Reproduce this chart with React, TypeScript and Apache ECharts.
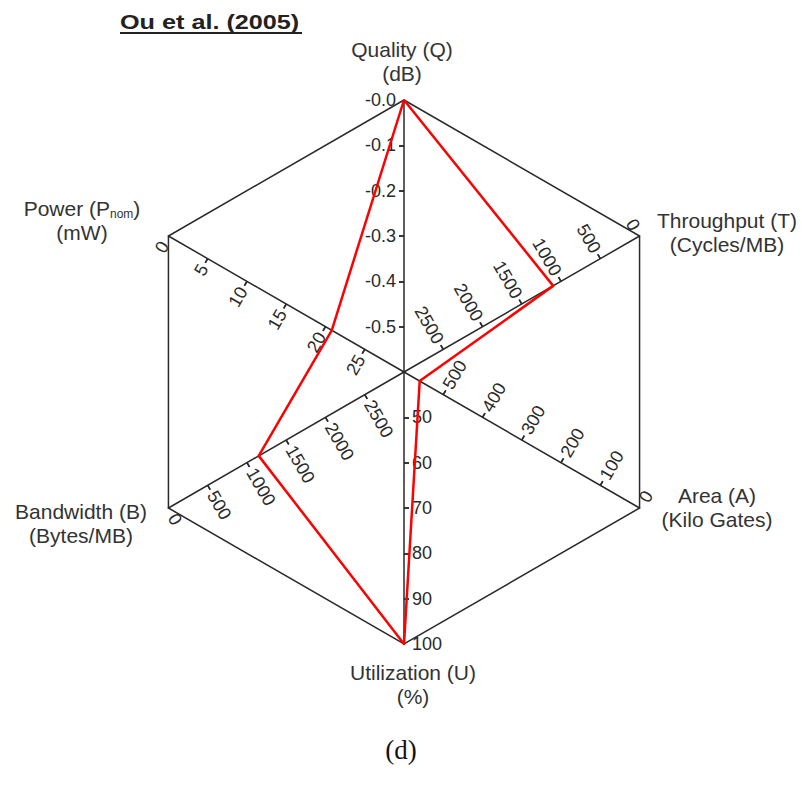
import React, { useEffect, useRef } from 'react';
import * as echarts from 'echarts';

// Axes in counter-clockwise order starting at the top
const axisTitles = ['Quality (Q)', 'Power (P', 'Bandwidth (B)', 'Utilization (U)', 'Area (A)', 'Throughput (T)'];
const axisUnits = ['(dB)', '(mW)', '(Bytes/MB)', '(%)', '(Kilo Gates)', '(Cycles/MB)'];
const hubValues = [-0.6, 30, 3000, 40, 600, 3000]; // value at the centre
const cornerValues = [0, 0, 0, 100, 0, 0]; // value at the hexagon corner
const labelPrefixes = ['-', '', '', '', '', ''];
const labelDecimals = [1, 0, 0, 0, 0, 0];
const labelRotations = [0, 60, -60, 0, 60, -60];
const ouEtAl2005 = [0, 20.8, 1150, 100, 560, 1100];
const splitCount = 6;

const FONT = 'Liberation Sans, Arial, sans-serif';
const INK = '#2a2a2a';

function buildIndicators(withLabels: boolean, withTicks: boolean) {
  return axisTitles.map((name, i) => {
    const inverted = cornerValues[i] < hubValues[i];
    const min = inverted ? -hubValues[i] : hubValues[i];
    const max = inverted ? -cornerValues[i] : cornerValues[i];
    const step = (max - min) / splitCount;
    const inner: number[] = [];
    for (let k = 1; k < splitCount; k++) inner.push(min + k * step);
    const ind: any = { name, min, max };
    if (withTicks) ind.axisTick = { customValues: inner };
    if (withLabels) {
      ind.axisLabel = {
        rotate: labelRotations[i],
        showMinLabel: false,
        showMaxLabel: true,
        formatter: (v: number) => labelPrefixes[i] + Math.abs(v).toFixed(labelDecimals[i]),
      };
    }
    return ind;
  });
}

function mappedValues(vals: number[]) {
  return vals.map((v, i) => (cornerValues[i] < hubValues[i] ? -v : v));
}

const namePlacement = [
  { x: 402, y: 37 },
  { x: 82, y: 196 },
  { x: 81, y: 499 },
  { x: 413, y: 660 },
  { x: 717, y: 483 },
  { x: 727, y: 208 },
];

export default function App() {
  const ref = useRef<HTMLDivElement>(null);
  useEffect(() => {
    if (!ref.current) return;
    const chart = echarts.init(ref.current, undefined, { renderer: 'svg' });
    const base = {
      center: [404, 372],
      radius: 272,
      startAngle: 90,
      shape: 'polygon',
      splitNumber: splitCount,
      axisName: { show: false },
      splitArea: { show: false },
      splitLine: { show: false },
    };
    const lineStyle = { color: INK, width: 1.5 };

    const nameTexts = axisTitles.map((t, i) => {
      const first = i === 1 ? '{a|' + t + '}{s|nom}{a|)}' : '{a|' + t + '}';
      return {
        type: 'text',
        x: namePlacement[i].x,
        y: namePlacement[i].y,
        silent: true,
        style: {
          text: first + '\n{a|' + axisUnits[i] + '}',
          align: 'center',
          verticalAlign: 'top',
          fill: '#333',
          font: `21px ${FONT}`,
          rich: {
            a: { fontSize: 21, fontFamily: FONT, fill: '#333', lineHeight: 24 } as any,
            s: { fontSize: 12, fontFamily: FONT, fill: '#333', lineHeight: 14, verticalAlign: 'bottom' } as any,
          },
        },
      };
    });

    chart.setOption({
      animation: false,
      radar: [
        {
          ...base,
          indicator: buildIndicators(true, true),
          axisLine: { show: true, lineStyle },
          axisTick: { show: true, length: 5, lineStyle },
          axisLabel: { show: true, margin: 8, fontSize: 18, color: '#2a2a2a', fontFamily: FONT },
        },
        {
          ...base,
          indicator: buildIndicators(false, true),
          axisLine: { show: false },
          axisTick: { show: true, inside: true, length: 5, lineStyle },
          axisLabel: { show: false },
        },
        {
          ...base,
          splitNumber: 1,
          indicator: buildIndicators(false, false),
          axisLine: { show: false },
          axisTick: { show: false },
          axisLabel: { show: false },
          splitLine: { show: true, lineStyle },
        },
      ],
      series: [
        {
          type: 'radar',
          radarIndex: 0,
          symbol: 'none',
          z: 5,
          lineStyle: { color: '#ff0000', width: 2.5 },
          data: [{ name: 'Ou et al. (2005)', value: mappedValues(ouEtAl2005) }],
        },
      ],
      graphic: [
        {
          type: 'text',
          x: 120,
          y: 22,
          scaleX: 1.2,
          silent: true,
          style: {
            text: 'Ou et al. (2005)',
            font: `bold 21px ${FONT}`,
            fill: '#222',
            align: 'left',
            verticalAlign: 'middle',
          },
        },
        {
          type: 'line',
          silent: true,
          shape: { x1: 120, y1: 33, x2: 302, y2: 33 },
          style: { stroke: '#222', lineWidth: 2 },
        },
        ...nameTexts,
        {
          type: 'text',
          x: 401,
          y: 750,
          silent: true,
          style: {
            text: '(d)',
            font: '27px Liberation Serif, Times New Roman, serif',
            fill: '#111',
            align: 'center',
            verticalAlign: 'middle',
          },
        },
      ],
    });
    return () => chart.dispose();
  }, []);
  return (
    <div
      ref={ref}
      style={{ position: 'fixed', left: 0, top: 0, width: 802, height: 792, background: '#fff' }}
    />
  );
}
